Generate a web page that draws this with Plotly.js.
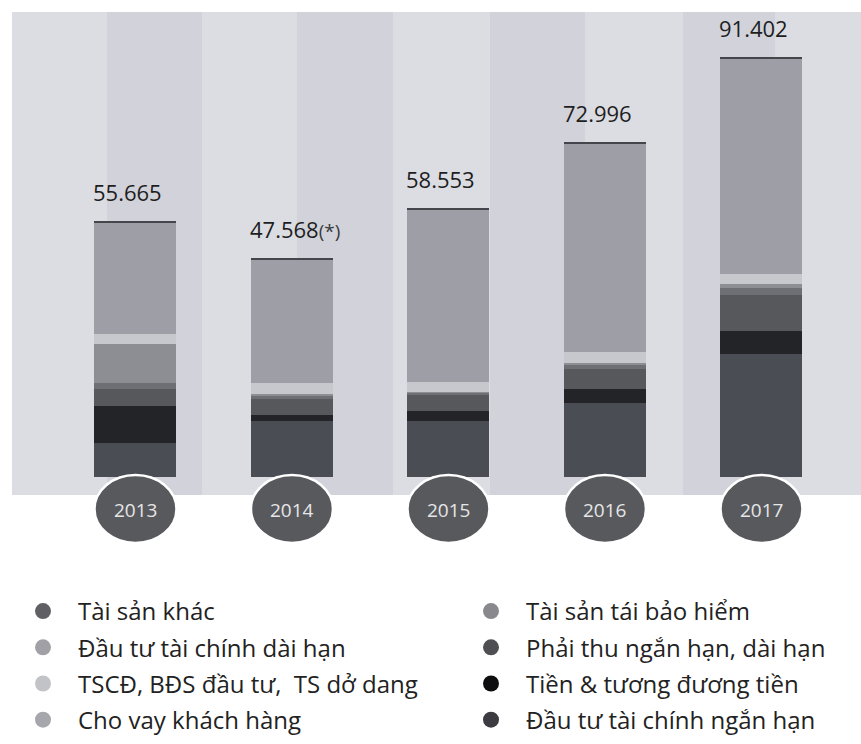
<!DOCTYPE html>
<html>
<head>
<meta charset="utf-8">
<script src="https://cdn.plot.ly/plotly-3.0.1.min.js"></script>
<style>
  html, body { margin: 0; padding: 0; background: #ffffff; }
  #chart { width: 861px; height: 744px; }
</style>
</head>
<body>
<div id="chart"></div>
<script>
// ---- data (nghìn tỷ đồng) ----
const years = ['2013', '2014', '2015', '2016', '2017'];
const totals = [55.665, 47.568, 58.553, 72.996, 91.402];
const totalNotes = ['', '(*)', '', '', ''];

const taiSanKhac    = [0.45, 0.45, 0.45, 0.45, 0.45];
const dauTuDaiHan   = [24.16, 26.77, 37.43, 45.27, 46.79];
const tscd          = [2.18, 2.18, 2.18, 2.39, 2.18];
const choVay        = [8.49, 0.44, 0.30, 0.44, 0.87];
const taiBaoHiem    = [1.31, 0.65, 0.45, 0.87, 1.52];
const phaiThu       = [3.70, 3.48, 3.48, 4.35, 7.83];
const tien          = [8.05, 1.52, 2.18, 3.05, 5.01];
const dauTuNganHan  = [7.33, 12.08, 12.08, 16.18, 26.75];

const seriesNames = {
  khac: 'Tài sản khác',
  taiBH: 'Tài sản tái bảo hiểm',
  daiHan: 'Đầu tư tài chính dài hạn',
  phaiThu: 'Phải thu ngắn hạn, dài hạn',
  tscd: 'TSCĐ, BĐS đầu tư,\u00A0 TS dở dang',
  tien: 'Tiền & tương đương tiền',
  choVay: 'Cho vay khách hàng',
  nganHan: 'Đầu tư tài chính ngắn hạn'
};

// ---- styles ----
const barColors = {
  nganHan: '#4b4d55',
  tien: '#232428',
  phaiThu: '#56585c',
  taiBH: '#6e6f74',
  choVay: '#8c8e93',
  tscd: '#c6c8cd',
  daiHan: '#9d9ea6',
  khac: '#45464b'
};
const legendColors = {
  khac: '#606064',
  taiBH: '#88888d',
  daiHan: '#a0a0a6',
  phaiThu: '#4f4f53',
  tscd: '#c2c3c6',
  tien: '#0e0e10',
  choVay: '#a6a7ac',
  nganHan: '#3b3b41'
};

const stackOrder = [
  ['nganHan', dauTuNganHan],
  ['tien', tien],
  ['phaiThu', phaiThu],
  ['taiBH', taiBaoHiem],
  ['choVay', choVay],
  ['tscd', tscd],
  ['daiHan', dauTuDaiHan],
  ['khac', taiSanKhac]
];
// two legend columns
const legendColumns = [
  ['legend', ['khac', 'daiHan', 'tscd', 'choVay']],
  ['legend2', ['taiBH', 'phaiThu', 'tien', 'nganHan']]
];

const traces = [];
stackOrder.forEach(([key, vals]) => {
  traces.push({
    type: 'bar',
    x: years,
    y: vals,
    name: seriesNames[key],
    legendgroup: key,
    showlegend: false,
    marker: { color: barColors[key], line: { width: 0 } },
    hoverinfo: 'x+y+name'
  });
});
legendColumns.forEach(([legendId, keys]) => {
  keys.forEach((key, i) => {
    traces.push({
      type: 'scatter',
      mode: 'markers',
      x: [null],
      y: [null],
      name: seriesNames[key],
      legend: legendId,
      legendgroup: key,
      legendrank: i + 1,
      marker: { size: 20, color: legendColors[key] },
      hoverinfo: 'skip'
    });
  });
});

// ---- layout geometry ----
const W = 861, H = 744;
const M = { l: 12, r: 0, t: 12, b: 249, autoexpand: false };
const plotW = W - M.l - M.r;
const plotH = H - M.t - M.b;
const xRange = [-0.789, 4.636];
const yRange = [-3.92, 101.2];
const barHalf = 0.262;

function pxToPaperX(px) { return (px - M.l) / plotW; }
function pxToPaperY(py) { return (H - M.b - py) / plotH; }
function idxToPaperX(v) { return (v - xRange[0]) / (xRange[1] - xRange[0]); }

const shapes = [];
// darker background stripes
[[107, 202], [297, 393], [490, 585], [683, 775]].forEach(([a, b]) => {
  shapes.push({
    type: 'rect', xref: 'paper', yref: 'paper', layer: 'below',
    x0: pxToPaperX(a), x1: pxToPaperX(b), y0: 0, y1: 1,
    fillcolor: '#d2d3da', line: { width: 0 }
  });
});
// year badges
years.forEach((yr, i) => {
  shapes.push({
    type: 'circle', xref: 'paper', yref: 'paper', layer: 'above',
    x0: idxToPaperX(i - barHalf), x1: idxToPaperX(i + barHalf),
    y0: pxToPaperY(543), y1: pxToPaperY(475),
    fillcolor: '#58595d', line: { color: '#ffffff', width: 2.5 }
  });
});

// category axes take annotation positions as category index
const annotations = [];
years.forEach((yr, i) => {
  const note = totalNotes[i] ? '<span style="font-size:19px;color:#3a3a3a">' + totalNotes[i] + '</span>' : '';
  annotations.push({
    x: i, y: totals[i], xref: 'x', yref: 'y',
    text: totals[i].toFixed(3) + note,
    showarrow: false, xanchor: 'left', yanchor: 'bottom',
    xshift: -44, yshift: 12,
    font: { family: 'Open Sans, sans-serif', size: 22, color: '#1e1e1e' }
  });
  annotations.push({
    x: i, xref: 'x', yref: 'paper', y: pxToPaperY(510),
    text: yr, showarrow: false, xanchor: 'center', yanchor: 'middle',
    font: { family: 'Open Sans, sans-serif', size: 19, color: '#e6e6e8' }
  });
});

const legendBase = {
  orientation: 'v',
  yanchor: 'top',
  xanchor: 'left',
  itemwidth: 60,
  tracegroupgap: 2,
  traceorder: 'grouped',
  bgcolor: 'rgba(0,0,0,0)',
  font: { family: 'Open Sans, sans-serif', size: 24, color: '#222222' }
};

const layout = {
  width: W, height: H,
  margin: M,
  paper_bgcolor: '#ffffff',
  plot_bgcolor: '#dcdde3',
  barmode: 'stack',
  bargap: 0.476,
  showlegend: true,
  xaxis: {
    type: 'category', range: xRange, visible: false, fixedrange: true
  },
  yaxis: {
    range: yRange, visible: false, fixedrange: true
  },
  legend: Object.assign({}, legendBase, { x: pxToPaperX(8), y: pxToPaperY(589) }),
  legend2: Object.assign({}, legendBase, { x: pxToPaperX(456), y: pxToPaperY(589) }),
  shapes: shapes,
  annotations: annotations,
  font: { family: 'Open Sans, sans-serif' }
};

Plotly.newPlot('chart', traces, layout, { displayModeBar: false, staticPlot: true });
</script>
</body>
</html>
